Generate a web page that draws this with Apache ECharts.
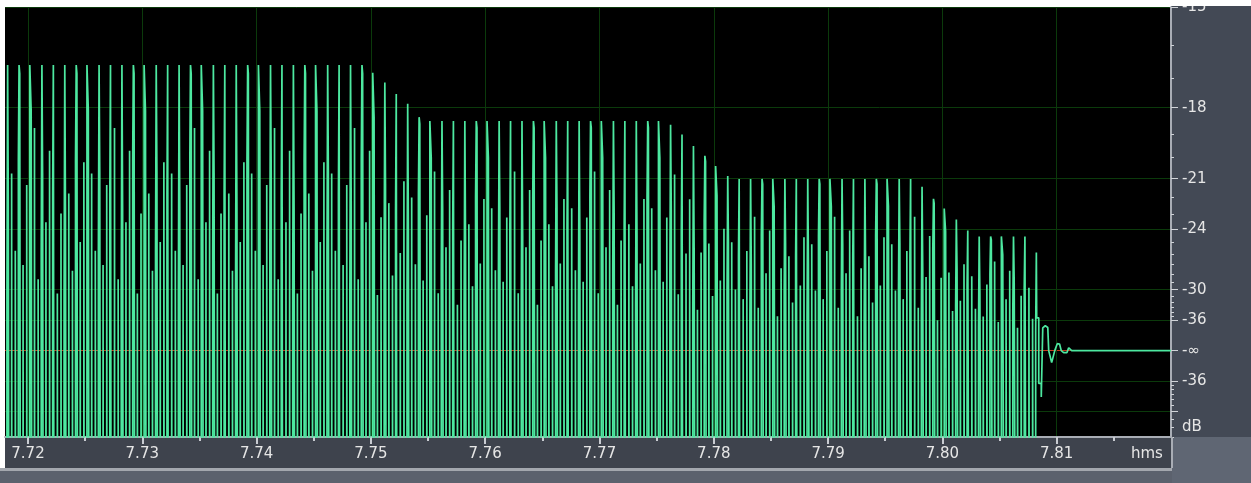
<!DOCTYPE html>
<html><head><meta charset="utf-8">
<script src="https://cdn.jsdelivr.net/npm/echarts@6/dist/echarts.min.js"></script>
<style>html,body{margin:0;padding:0;background:#fff;}#c{width:1251px;height:483px;}</style>
</head><body><div id="c"></div><script>
// ---------------- data ----------------
// time axis (seconds, "hms")
const viewStart = 7.71799, viewEnd = 7.82;
const timeLabels = [7.72, 7.73, 7.74, 7.75, 7.76, 7.77, 7.78, 7.79, 7.80, 7.81];
const timeMinor = [7.725, 7.735, 7.745, 7.755, 7.765, 7.775, 7.785, 7.795, 7.805, 7.815];
// amplitude axis (linear, fraction of full scale), labelled in dB
const ampMin = -0.04475, ampMax = 0.178;
const labelDb   = [-28, -36, -Infinity, -36, -30, -24, -21, -18, -15];
const labelSign = [-1, -1, 0, 1, 1, 1, 1, 1, 1];
const labelText = ['dB', '-36', '-∞', '-36', '-30', '-24', '-21', '-18', '-15'];
const gridDb    = [-30, -36, -Infinity, -36, -30, -24, -21, -18, -15];
const gridSign  = [-1, -1, 0, 1, 1, 1, 1, 1, 1];
const minorDbPos = [-15,-16,-17,-18,-19,-20,-21,-22,-23,-24,-25,-26,-27,-28,-29,-30,-31,-32,-33,-34,-35,-36];
const minorDbNeg = [-36,-35,-34,-33,-32,-31,-30,-29,-28,-27];

// waveform: one pulse per millisecond, peak amplitude of each pulse
const firstPulse = 7.71816, pulsePeriod = 0.001;
const pulsePeaks = [
  0.148,0.148,0.148,0.148,0.148,0.148,0.148,0.148,0.148,0.148,
  0.148,0.148,0.148,0.148,0.148,0.148,0.148,0.148,0.148,0.148,
  0.148,0.148,0.148,0.148,0.148,0.148,0.148,0.148,0.148,0.148,
  0.148,0.148,0.144,0.139,0.133,0.128,0.121,0.119,0.119,0.119,
  0.119,0.119,0.119,0.119,0.119,0.119,0.119,0.119,0.119,0.119,
  0.119,0.119,0.119,0.119,0.119,0.119,0.119,0.119,0.117,0.112,
  0.106,0.101,0.0957,0.0905,0.089,0.089,0.089,0.089,0.089,0.089,
  0.089,0.089,0.089,0.089,0.089,0.089,0.089,0.089,0.089,0.089,
  0.0849,0.0787,0.0736,0.0679,0.0622,0.0592,0.0592,0.0592,0.0592,0.0592,
  0.0509
];
// intermediate sample levels inside each pulse (fraction of the pulse peak), repeating patterns
const leftStep  = [0.20, 0.67, 0.00, 0.35, 0.55];
const rightStep = [0.50, 0.97, 0.84, 0.62, 1.00];
const spikeA    = [0.62, 0.30, 0.78, 0.45, 0.20, 0.55, 0.38];
const spikeB    = [0.35, 0.58, 0.25, 0.70, 0.48, 0.28, 0.66];
// decaying tail after the last pulse
const tailT = [7.80825,7.80825,7.80843,7.80843,7.80865,7.80865,7.80878,7.80878,7.80900,7.80922,7.80930,7.80956,7.80970,7.80983,7.81005,7.81025,7.81040,7.81061,7.81090,7.81105,7.81131,7.82000];
const tailV = [0.0509,0.017,0.017,-0.017,-0.017,-0.024,-0.024,0.0118,0.0129,0.0120,0.0,-0.0062,-0.0058,0.0,0.0036,0.0034,0.0,-0.001,-0.001,0.0015,0.0,0.0];

// ---------------- build the series ----------------
const amp = (db, s) => s === 0 ? 0 : s * Math.pow(10, db / 20);
const stepW = 0.00006, topW = 0.00012, spikeW = 0.00002, spikeOffA = 0.00041, spikeOffB = 0.00073;
const wave = [[viewStart, -0.06]];
pulsePeaks.forEach((p, k) => {
  const t = firstPulse + k * pulsePeriod;
  const low = -p, i = k % 5, j = k % 7;
  wave.push([t, low]);
  if (leftStep[i] > 0) { wave.push([t, leftStep[i] * p], [t + stepW, leftStep[i] * p], [t + stepW, p]); }
  else wave.push([t, p]);
  if (k === pulsePeaks.length - 1) { wave.push([t + topW, p]); return; }
  wave.push([t + topW, p]);
  if (rightStep[i] < 1) wave.push([t + topW, rightStep[i] * p], [t + topW + stepW, rightStep[i] * p], [t + topW + stepW, low]);
  else wave.push([t + topW, low]);
  wave.push([t + spikeOffA, low], [t + spikeOffA, spikeA[j] * p], [t + spikeOffA + spikeW, spikeA[j] * p], [t + spikeOffA + spikeW, low]);
  wave.push([t + spikeOffB, low], [t + spikeOffB, spikeB[j] * p], [t + spikeOffB + spikeW, spikeB[j] * p], [t + spikeOffB + spikeW, low]);
});
tailT.forEach((t, n) => wave.push([t, tailV[n]]));

const gridVals = gridDb.map((d, n) => amp(d, gridSign[n]));
const labelVals = labelDb.map((d, n) => amp(d, labelSign[n]));
const minorVals = minorDbPos.map(d => amp(d, 1)).concat(minorDbNeg.map(d => amp(d, -1)));
const gridColors = gridSign.map(s => s === 0 ? '#c4391c' : '#0b3a0b');

const FONT = 'DejaVu Sans, Liberation Sans, sans-serif';
const txt = { color: '#e6e6e6', fontFamily: FONT, fontSize: 15,
  textShadowColor: '#000', textShadowOffsetX: 1, textShadowOffsetY: 1, textShadowBlur: 0 };

const chart = echarts.init(document.getElementById('c'), null, { renderer: 'canvas' });
chart.setOption({
  animation: false,
  backgroundColor: '#ffffff',
  grid: { left: 5, top: 4, width: 1166, height: 433, show: true, backgroundColor: '#000', borderWidth: 0 },
  xAxis: [{
    type: 'value', min: viewStart, max: viewEnd, position: 'bottom',
    axisLine: { show: true, onZero: false, lineStyle: { color: '#a9adb5', width: 2 } },
    axisTick: { show: true, customValues: timeLabels, length: 7, lineStyle: { color: '#c9ccd2', width: 2 } },
    axisLabel: Object.assign({ customValues: timeLabels, margin: 10, formatter: v => v.toFixed(2) }, txt),
    splitLine: { show: true, lineStyle: { color: '#0b3a0b', width: 1 } }
  }, {
    type: 'value', min: viewStart, max: viewEnd, position: 'bottom', offset: 0,
    axisLine: { show: false, onZero: false },
    axisTick: { show: true, customValues: timeMinor, length: 4, lineStyle: { color: '#c9ccd2', width: 2 } },
    axisLabel: { show: false }, splitLine: { show: false }
  }],
  yAxis: [{
    type: 'value', min: ampMin, max: ampMax, position: 'right',
    axisLine: { show: true, onZero: false, lineStyle: { color: '#a9adb5', width: 2 } },
    axisTick: { show: true, customValues: gridVals, length: 7, lineStyle: { color: '#d0d3d8', width: 1 } },
    axisLabel: Object.assign({ customValues: labelVals, margin: 11, align: 'left',
      formatter: v => { let b = 0; labelVals.forEach((lv, n) => { if (Math.abs(lv - v) < Math.abs(labelVals[b] - v)) b = n; }); return labelText[b]; } }, txt),
    splitLine: { show: true, lineStyle: { color: gridColors, width: 1 } }
  }, {
    type: 'value', min: ampMin, max: ampMax, position: 'right', offset: 0,
    axisLine: { show: false, onZero: false },
    axisTick: { show: true, customValues: minorVals, length: 3, lineStyle: { color: '#d0d3d8', width: 1 } },
    axisLabel: { show: false }, splitLine: { show: false }
  }],
  graphic: { elements: [
    { type: 'rect', z: -100, shape: { x: 1171, y: 0, width: 80, height: 437 }, style: { fill: '#434955' } },
    { type: 'rect', z: -100, shape: { x: 5, y: 437, width: 1167, height: 31 }, style: { fill: '#3e434d' } },
    { type: 'rect', z: -100, shape: { x: 0, y: 468, width: 1172, height: 3 }, style: { fill: '#a3a7ae' } },
    { type: 'rect', z: -100, shape: { x: 0, y: 471, width: 1172, height: 12 }, style: { fill: '#5b616d' } },
    { type: 'rect', z: -100, shape: { x: 1172, y: 437, width: 79, height: 46 }, style: { fill: '#5f6673' } },
    { type: 'rect', z: 90, shape: { x: 1171, y: 437, width: 2, height: 31 }, style: { fill: '#a9adb5' } },
    { type: 'rect', z: 100, shape: { x: 0, y: 0, width: 1251, height: 6 }, style: { fill: '#ffffff' } },
    { type: 'text', z: 100, x: 1131, y: 447, style: { text: 'hms', fill: '#e6e6e6', font: '15px ' + FONT, shadowColor: '#000', shadowOffsetX: 1, shadowOffsetY: 1 } }
  ] },
  series: [{
    type: 'line', xAxisIndex: 0, yAxisIndex: 0, data: wave, showSymbol: false, symbol: 'none',
    clip: true, lineStyle: { color: '#4de8a0', width: 1.7, join: 'bevel' }, z: 5
  }]
});
</script></body></html>
